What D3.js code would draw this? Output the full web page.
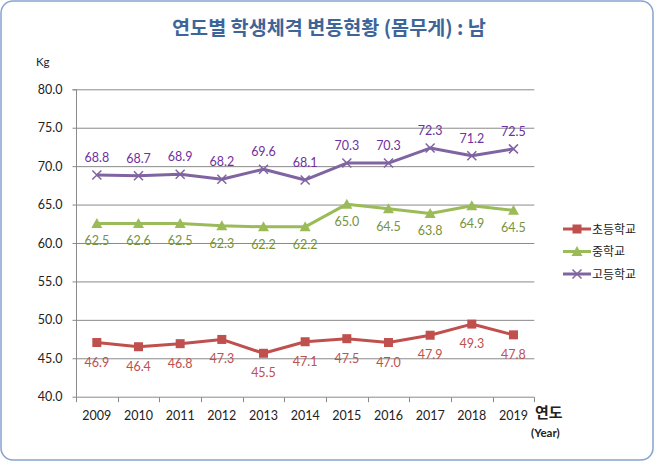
<!DOCTYPE html>
<html><head><meta charset="utf-8">
<script src="https://cdn.jsdelivr.net/npm/d3@7"></script>
<style>body{margin:0;background:#fff}</style>
</head><body>
<svg id="c" width="655" height="462"></svg>
<script>
const years = ["2009","2010","2011","2012","2013","2014","2015","2016","2017","2018","2019"];
const seriesNames = ["초등학교","중학교","고등학교"];
// plotted values
const elemValues = [47.05,46.5,46.9,47.45,45.65,47.15,47.55,47.05,48.0,49.45,48.05];
const midValues  = [62.55,62.55,62.55,62.25,62.1,62.1,65.05,64.45,63.85,64.85,64.25];
const highValues = [68.85,68.75,68.95,68.3,69.6,68.2,70.4,70.4,72.35,71.35,72.25];
// data label texts
const elemLabels = ["46.9","46.4","46.8","47.3","45.5","47.1","47.5","47.0","47.9","49.3","47.8"];
const midLabels  = ["62.5","62.6","62.5","62.3","62.2","62.2","65.0","64.5","63.8","64.9","64.5"];
const highLabels = ["68.8","68.7","68.9","68.2","69.6","68.1","70.3","70.3","72.3","71.2","72.5"];
const yTicks = [40,45,50,55,60,65,70,75,80];

(function(){
const svg = d3.select("#c");
const W=655,H=462;
const pL=76,pR=534.3,pT=89.3,pB=396.7;
const numFont = "Lato, 'Noto Sans', sans-serif";
const korFont = "'Noto Sans CJK KR', sans-serif";

svg.append("rect").attr("x",1).attr("y",1).attr("width",W-3).attr("height",H-3)
  .attr("rx",12).attr("ry",12).attr("fill","#fff").attr("stroke","#86A2D2").attr("stroke-width",1.5);

svg.append("text").attr("x",329).attr("y",35).attr("text-anchor","middle")
  .attr("font-family",korFont).attr("font-weight","bold").attr("font-size",19.6)
  .attr("fill","#3D6599").text("연도별 학생체격 변동현황 (몸무게) : 남");

const x = d3.scaleBand().domain(years).range([pL,pR]);
const y = d3.scaleLinear().domain([40,80]).range([pB,pT]);

svg.append("g").selectAll("line").data(yTicks.filter(d=>d>40)).join("line")
  .attr("x1",pL).attr("x2",pR).attr("y1",d=>y(d)+0.5).attr("y2",d=>y(d)+0.5)
  .attr("stroke","#8A8A8A").attr("stroke-width",1);

const ya = svg.append("g").attr("transform",`translate(${pL+0.5},0)`)
  .call(d3.axisLeft(y).tickValues(yTicks).tickSize(4).tickPadding(10).tickFormat(d3.format(".1f")));
ya.select(".domain").attr("stroke","#8A8A8A").attr("d",`M-4,${pT+0.5}H0V${pB+0.5}`);
ya.selectAll(".tick line").attr("stroke","#8A8A8A");
ya.selectAll("text").attr("font-family",numFont).attr("font-size",12.5).attr("fill","#222");

const xa = svg.append("g").attr("transform",`translate(0,${pB+0.5})`)
  .call(d3.axisBottom(x).tickSize(0).tickPadding(14));
xa.select(".domain").attr("stroke","#8A8A8A").attr("d",`M${pL},0H${pR}`);
xa.selectAll("text").attr("font-family",numFont).attr("font-size",12.5).attr("fill","#222");
const bounds = years.map(d=>x(d)).concat([pR]);
xa.append("g").selectAll("line").data(bounds).join("line")
  .attr("x1",d=>Math.round(d)+0.5).attr("x2",d=>Math.round(d)+0.5).attr("y1",0).attr("y2",5)
  .attr("stroke","#8A8A8A");

svg.append("text").attr("x",36).attr("y",66).attr("font-family",numFont).attr("font-size",11.5).attr("fill","#222").text("Kg");
svg.append("text").attr("x",535).attr("y",418).attr("font-family",korFont).attr("font-size",15).attr("font-weight","bold").attr("fill","#222").text("연도");
svg.append("text").attr("x",531).attr("y",437).attr("font-family",numFont).attr("font-size",11.5).attr("font-weight","bold").attr("fill","#222").text("(Year)");

const cx = d=>x(d)+x.bandwidth()/2;
const series = [
  {name:seriesNames[0], vals:elemValues, labels:elemLabels, color:"#C0504D", lcolor:"#C0504D", marker:"square", dy:24},
  {name:seriesNames[1], vals:midValues, labels:midLabels, color:"#9BBB59", lcolor:"#77933C", marker:"triangle", dy:22},
  {name:seriesNames[2], vals:highValues, labels:highLabels, color:"#8064A2", lcolor:"#7030A0", marker:"x", dy:-13}
];
const line = d3.line().x((d,i)=>cx(years[i])).y(d=>y(d));

function drawMarker(g, m, px, py, color){
  if(m==="square") g.append("rect").attr("x",px-4.5).attr("y",py-4.5).attr("width",9).attr("height",9).attr("fill",color);
  else if(m==="triangle") g.append("path").attr("d",`M${px},${py-5.5}L${px+5.5},${py+4.5}L${px-5.5},${py+4.5}Z`).attr("fill",color);
  else g.append("path").attr("d",`M${px-4.5},${py-4.5}L${px+4.5},${py+4.5}M${px+4.5},${py-4.5}L${px-4.5},${py+4.5}`).attr("stroke",color).attr("stroke-width",1.5).attr("fill","none");
}

series.forEach(s=>{
  const g = svg.append("g");
  g.append("path").datum(s.vals).attr("d",line).attr("fill","none").attr("stroke",s.color).attr("stroke-width",3).attr("stroke-linejoin","round");
  s.vals.forEach((v,i)=>drawMarker(g,s.marker,cx(years[i]),y(v),s.color));
  g.selectAll("text.lab").data(s.vals).join("text").attr("class","lab")
    .attr("x",(d,i)=>cx(years[i])).attr("y",d=>y(d)+s.dy).attr("text-anchor","middle")
    .attr("font-family",numFont).attr("font-size",12.5).attr("fill",s.lcolor)
    .text((d,i)=>s.labels[i]);
});

const legY = [229,251.5,274];
series.forEach((s,i)=>{
  const g = svg.append("g");
  g.append("line").attr("x1",563).attr("x2",591).attr("y1",legY[i]).attr("y2",legY[i]).attr("stroke",s.color).attr("stroke-width",3);
  drawMarker(g,s.marker,577,legY[i],s.color);
  g.append("text").attr("x",592).attr("y",legY[i]+4.5).attr("font-family",korFont).attr("font-size",12).attr("fill","#222").text(s.name);
});
})();
</script>
</body></html>
